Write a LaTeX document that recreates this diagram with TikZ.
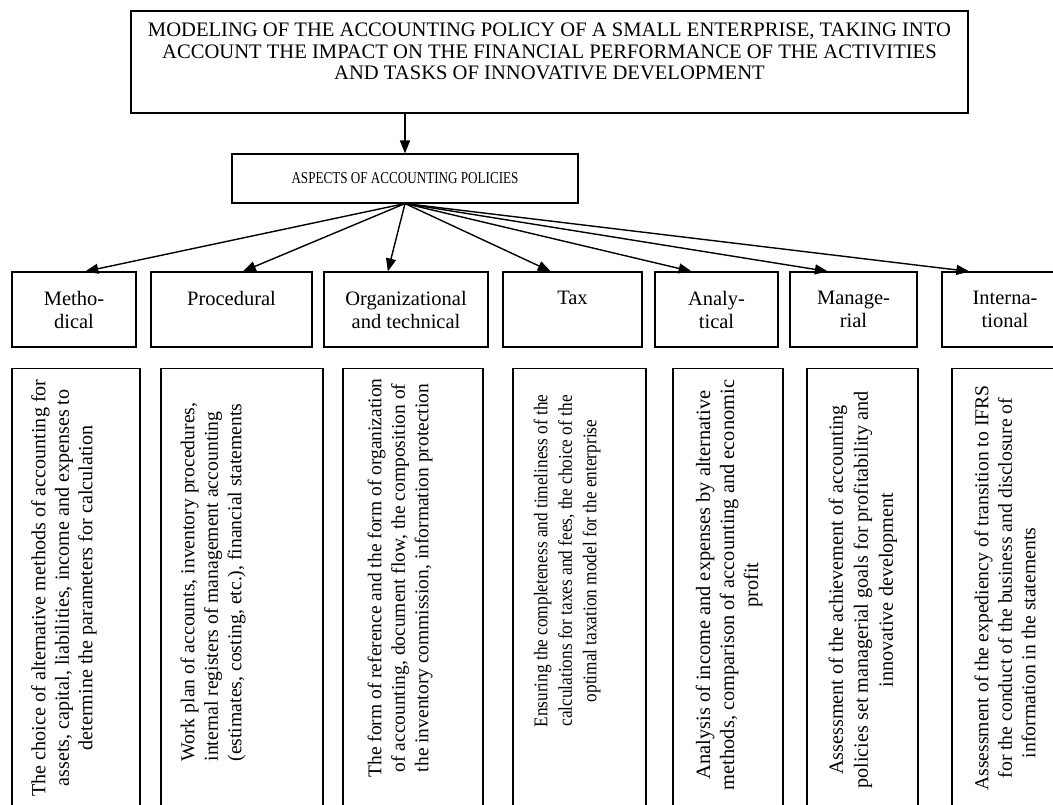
\documentclass[tikz,border=0pt]{standalone}
\usepackage{fontspec}
\setmainfont{Liberation Serif}
\newfontfamily\narrowfont{Liberation Serif}[FakeStretch=0.79]
\newfontfamily\taxfont{Liberation Serif}[FakeStretch=0.89]
\usetikzlibrary{arrows.meta,calc}

\begin{document}
\begin{tikzpicture}[
        x=1pt, y=-1pt,
        frame/.style={rectangle, draw, line width=1.1pt, inner sep=0pt},
        topbox/.style={frame, minimum width=837pt, minimum height=102pt, align=center, font=\fontsize{20.6}{21.5}\selectfont},
        aspect/.style={frame, minimum height=75pt, align=center, font=\fontsize{20.5}{23}\selectfont},
        descr/.style={frame, anchor=north, minimum height=470pt},
        descr_text/.style={rotate=90, align=center, font=\fontsize{19.7}{23.5}\selectfont, inner sep=0pt},
        arr/.style={-{Triangle[length=13pt,width=10pt]}, line width=1.4pt}
    ]
        \clip (0,0) rectangle (1053,805);

        % Top levels
        \node[topbox] (model_root) at (549.5,62) {MODELING OF THE ACCOUNTING POLICY OF A SMALL ENTERPRISE, TAKING INTO\\ACCOUNT THE IMPACT ON THE FINANCIAL PERFORMANCE OF THE ACTIVITIES\\AND TASKS OF INNOVATIVE DEVELOPMENT\\ \mbox{}};
        \node[frame, minimum width=346pt, minimum height=49pt, font=\narrowfont\fontsize{16.6}{19}\selectfont] (aspects_root) at (405,178.5) {ASPECTS OF ACCOUNTING POLICIES};
        \draw[arr] (model_root.south -| aspects_root.north) -- (aspects_root.north);

        % Aspects
        \node[aspect, minimum width=124pt] (asp_meth) at (74,309.5) {Metho-\\dical};
        \node[aspect, minimum width=161pt] (asp_proc) at (231.5,309.5) {Procedural\\ \mbox{}};
        \node[aspect, minimum width=164pt] (asp_org) at (406,309.5) {Organizational\\and technical};
        \node[aspect, minimum width=139pt] (asp_tax) at (572.5,309.5) {Tax\\ \mbox{}};
        \node[aspect, minimum width=123pt] (asp_anal) at (716.5,309.5) {Analy-\\tical};
        \node[aspect, minimum width=127pt] (asp_man) at (853.5,309.5) {Manage-\\rial};
        \node[aspect, minimum width=126pt] (asp_int) at (1005,309.5) {Interna-\\tional};

        \draw[arr] (aspects_root.south) -- ($(asp_meth.north west)!0.59!(asp_meth.north east)$);
        \draw[arr] (aspects_root.south) -- ($(asp_proc.north west)!0.57!(asp_proc.north east)$);
        \draw[arr] (aspects_root.south) -- ($(asp_org.north west)!0.39!(asp_org.north east)$);
        \draw[arr] (aspects_root.south) -- ($(asp_tax.north west)!0.345!(asp_tax.north east)$);
        \draw[arr] (aspects_root.south) -- ($(asp_anal.north west)!0.3!(asp_anal.north east)$);
        \draw[arr] (aspects_root.south) -- ($(asp_man.north west)!0.3!(asp_man.north east)$);
        \draw[arr] (aspects_root.south) -- ($(asp_int.north west)!0.22!(asp_int.north east)$);

        % Descriptions (boxes run off the bottom)
        \node[descr, minimum width=128pt] (desc_meth) at (76,368) {};
        \node[descr, minimum width=162pt] (desc_proc) at (242,368) {};
        \node[descr, minimum width=140pt] (desc_org) at (413,368) {};
        \node[descr, minimum width=133pt] (desc_tax) at (579.5,368) {};
        \node[descr, minimum width=110pt] (desc_anal) at (728,368) {};
        \node[descr, minimum width=111pt] (desc_man) at (862.5,368) {};
        \node[descr, minimum width=116pt] (desc_int) at (1010,368) {};

        \node[descr_text, font=\fontsize{20.1}{23.5}\selectfont] (txt_meth) at (64,588) {The choice of alternative methods of accounting for\\assets, capital, liabilities, income and expenses to\\determine the parameters for calculation};
        \node[descr_text, align=left] (txt_proc) at (213,582) {Work plan of accounts, inventory procedures,\\internal registers of management accounting\\(estimates, costing, etc.), financial statements};
        \node[descr_text, font=\fontsize{19.5}{23.5}\selectfont] (txt_org) at (400,578) {The form of reference and the form of organization\\of accounting, document flow, the composition of\\the inventory commission, information protection};
        \node[descr_text, font=\taxfont\fontsize{19.4}{24.5}\selectfont] (txt_tax) at (567,561) {Ensuring the completeness and timeliness of the\\calculations for taxes and fees, the choice of the\\optimal taxation model for the enterprise};
        \node[descr_text, font=\fontsize{20.4}{24}\selectfont] (txt_anal) at (729,585) {Analysis of income and expenses by alternative\\methods, comparison of accounting and economic\\profit};
        \node[descr_text, font=\fontsize{20.2}{25}\selectfont] (txt_man) at (863,590) {Assessment of the achievement of accounting\\policies set managerial goals for profitability and\\innovative development};
        \node[descr_text] (txt_int) at (1005,588) {Assessment of the expediency of transition to IFRS\\for the conduct of the business and disclosure of\\information in the statements\hspace*{110pt}};

    \end{tikzpicture}
\end{document}
